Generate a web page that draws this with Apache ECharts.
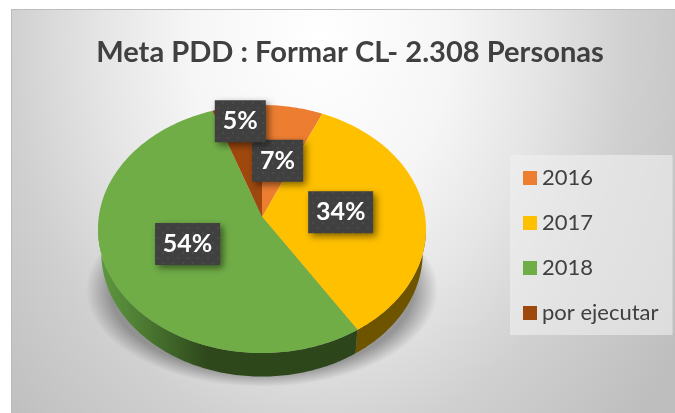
<!DOCTYPE html>
<html><head><meta charset="utf-8">
<style>html,body{margin:0;padding:0;background:#fff}#c{width:675px;height:413px}</style>
<script src="https://cdn.jsdelivr.net/npm/echarts@6/dist/echarts.min.js"></script>
</head><body><div id="c"></div>
<script>
const titleText = 'Meta PDD : Formar CL- 2.308 Personas';
const categories = ['2016', '2017', '2018', 'por ejecutar'];
const shareValues = [6.6, 34.4, 53.6, 5.4];

const sliceColors = ['#ED7D31', '#FFC000', '#70AD47', '#9E480E'];
const labelReach = [0.51, 0.487, 0.485, 0.865];
const FONT = 'Lato, "Open Sans", sans-serif';
// perspective disc: apex of the pie, horizontal / vertical radii, tilt, wall depth
const disc = {cx: 262, cy: 216.7, a: 163.2, b: 122.8, k: 0.0993, depth: 23.5, narrow: 0.98};
const FRONT_FROM = Math.acos(-disc.k) * 180 / Math.PI;
const FRONT_TO = 360 - FRONT_FROM;

function rim(deg, reach) {
  const t = deg * Math.PI / 180, s = Math.sin(t), c = Math.cos(t), d = 1 + disc.k * c;
  const r = reach === undefined ? 1 : reach;
  return [disc.cx + r * disc.a * s / d, disc.cy - r * disc.b * c / d];
}
function lower(p) { return [disc.cx + (p[0] - disc.cx) * disc.narrow, p[1] + disc.depth]; }
function arc(from, to) {
  const pts = [], n = Math.max(2, Math.ceil(Math.abs(to - from)));
  for (let i = 0; i <= n; i++) pts.push(rim(from + (to - from) * i / n));
  return pts;
}
const total = shareValues.reduce((a, b) => a + b, 0);
const startDeg = [];
shareValues.reduce((acc, v, i) => { startDeg[i] = acc / total * 360; return acc + v; }, 0);

// speckled tile for the data label boxes
const tile = document.createElement('canvas');
tile.width = tile.height = 10;
(function () {
  const g = tile.getContext('2d');
  g.fillStyle = '#404040'; g.fillRect(0, 0, 10, 10);
  g.fillStyle = '#4a4a4a';
  g.fillRect(2, 2, 2, 2); g.fillRect(7, 7, 2, 2);
})();
const measure = document.createElement('canvas').getContext('2d');
const LABEL_FONT = 'bold 25px ' + FONT;
measure.font = LABEL_FONT;

function wallFill(i) {
  if (i === 2) return new echarts.graphic.LinearGradient(98, 0, 358, 0, [
    {offset: 0, color: '#5f9a3f'}, {offset: 0.15, color: '#4f7f34'},
    {offset: 0.42, color: '#2e481b'}, {offset: 1, color: '#2c451a'}], true);
  if (i === 1) return '#6f5400';
  if (i === 3) return '#5f2b08';
  return '#8e4b1d';
}

function renderSlice(i) {
  return function (params, api) {
    const from = startDeg[i], to = from + api.value(0) / total * 360;
    const top = [[disc.cx, disc.cy]].concat(arc(from, to));
    const children = [];
    const wFrom = Math.max(from, FRONT_FROM), wTo = Math.min(to, FRONT_TO);
    if (wTo > wFrom) {
      const edge = arc(wFrom, wTo);
      children.push({
        type: 'polygon', z2: 1,
        shape: {points: edge.concat(edge.slice().reverse().map(lower))},
        style: {fill: wallFill(i)}
      });
    }
    children.push({type: 'polygon', z2: 2, shape: {points: top}, style: {fill: sliceColors[i]}});
    const mid = rim((from + to) / 2, labelReach[i]);
    const text = Math.round(api.value(0)) + '%';
    const w = Math.round(measure.measureText(text).width) + 16, h = 42;
    children.push({
      type: 'rect', z2: 100 + i * 2,
      shape: {x: mid[0] - w / 2, y: mid[1] - h / 2, width: w, height: h},
      style: {fill: {image: tile, repeat: 'repeat'}, shadowBlur: 7, shadowOffsetX: 3, shadowOffsetY: 3, shadowColor: 'rgba(0,0,0,0.5)'}
    });
    children.push({
      type: 'text', z2: 101 + i * 2,
      style: {x: mid[0], y: mid[1], text: text, fill: '#fff', font: LABEL_FONT, align: 'center', verticalAlign: 'middle'}
    });
    return {type: 'group', children: children};
  };
}

const BG_STRETCH = 1.3;
const chart = echarts.init(document.getElementById('c'), null, {renderer: 'canvas'});
chart.setOption({
  animation: false,
  backgroundColor: '#ffffff',
  graphic: [{
    type: 'rect', z: -10, silent: true, scaleY: BG_STRETCH,
    shape: {x: 11, y: 9 / BG_STRETCH, width: 664, height: 404 / BG_STRETCH},
    style: {fill: new echarts.graphic.RadialGradient(320, 40 / BG_STRETCH, 430, [
      {offset: 0, color: '#ffffff'}, {offset: 0.3, color: '#f6f6f6'}, {offset: 0.51, color: '#e5e5e5'},
      {offset: 0.72, color: '#d0d0d0'}, {offset: 1, color: '#bebebe'}], true)}
  }, {
    type: 'rect', z: -9, silent: true,
    shape: {x: 11.5, y: 9.5, width: 670, height: 410},
    style: {fill: 'none', stroke: '#bcbcbc', lineWidth: 1}
  }, {
    // soft cast shadow: a radial fade squashed into an ellipse below the disc
    type: 'circle', z: 1, silent: true, scaleY: 0.55, originX: 262, originY: 290,
    shape: {cx: 262, cy: 290, r: 176},
    style: {fill: new echarts.graphic.RadialGradient(262, 290, 176, [
      {offset: 0, color: 'rgba(110,110,110,0.65)'}, {offset: 0.86, color: 'rgba(110,110,110,0.65)'},
      {offset: 1, color: 'rgba(110,110,110,0)'}], true)}
  }],
  title: {
    text: titleText, left: 345, textAlign: 'center', top: 33,
    textStyle: {fontFamily: FONT, fontWeight: 'bold', fontSize: 29.1, color: '#404040'}
  },
  legend: {
    data: categories, orient: 'vertical', left: 510, top: 155,
    padding: [12, 14, 11, 13], itemWidth: 14, itemHeight: 14, itemGap: 23, icon: 'rect',
    backgroundColor: 'rgba(240,240,240,0.6)',
    textStyle: {fontFamily: FONT, fontSize: 22, color: '#404040'}
  },
  series: categories.map((name, i) => ({
    type: 'custom', name: name, coordinateSystem: 'none',
    itemStyle: {color: sliceColors[i]},
    renderItem: renderSlice(i),
    data: [[shareValues[i]]]
  }))
});
</script></body></html>
